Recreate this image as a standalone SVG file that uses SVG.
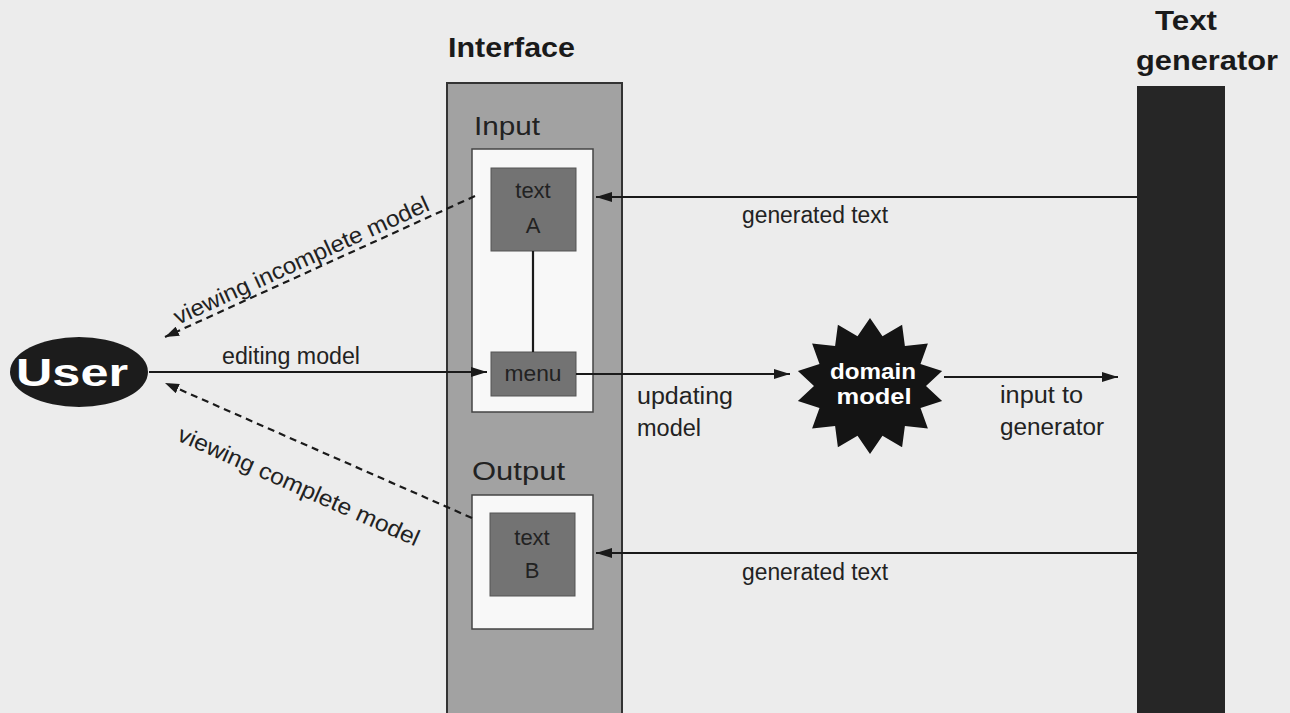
<svg xmlns="http://www.w3.org/2000/svg" width="1290" height="713" viewBox="0 0 1290 713">
<defs>
<marker id="ah" viewBox="0 0 16 10" refX="16" refY="5" markerWidth="16" markerHeight="10" markerUnits="userSpaceOnUse" orient="auto">
<path d="M0,0 L16,5 L0,10 Z" fill="#1a1a1a"/>
</marker>
<marker id="ahs" viewBox="0 0 14 10" refX="14" refY="5" markerWidth="14" markerHeight="10" markerUnits="userSpaceOnUse" orient="auto">
<path d="M0,0 L14,5 L0,10 Z" fill="#1a1a1a"/>
</marker>
</defs>
<style>
text{font-family:"Liberation Sans",Arial,Helvetica,sans-serif;fill:#222}
.lbl{font-size:23px}
.box{font-size:22px}
.hd{font-size:27px;font-weight:bold;fill:#1a1a1a}
.sec{font-size:26px}
.wb{font-weight:bold;fill:#fff}
.panel{fill:#a2a2a2;stroke:#333;stroke-width:2}
.white{fill:#f8f8f8;stroke:#444;stroke-width:1.5}
.dark{fill:#737373;stroke:#555;stroke-width:1}
.ln{stroke:#1a1a1a;stroke-width:2.2;fill:none}
.dash{stroke:#1a1a1a;stroke-width:2.2;fill:none;stroke-dasharray:7 5}
</style>
<rect x="0" y="0" width="1290" height="713" fill="#ececec"/>

<g id="interface">
<text class="hd" x="448" y="57" textLength="127" lengthAdjust="spacingAndGlyphs">Interface</text>
<rect class="panel" x="447" y="83" width="175" height="640"/>
<text class="sec" x="474" y="135" textLength="66" lengthAdjust="spacingAndGlyphs">Input</text>
<rect class="white" x="472" y="149" width="121" height="263"/>
<text class="sec" x="472" y="480" textLength="93" lengthAdjust="spacingAndGlyphs">Output</text>
<rect class="white" x="472" y="495" width="121" height="134"/>
</g>

<g id="textA">
<rect class="dark" x="491" y="168" width="85" height="83"/>
<text class="box" x="533" y="198" text-anchor="middle">text</text>
<text class="box" x="533" y="233" text-anchor="middle">A</text>
</g>

<g id="menu">
<rect class="dark" x="491" y="352" width="85" height="44"/>
<text class="box" x="533" y="381" text-anchor="middle" textLength="57" lengthAdjust="spacingAndGlyphs">menu</text>
</g>

<g id="textB">
<rect class="dark" x="490" y="513" width="85" height="83"/>
<text class="box" x="532" y="545" text-anchor="middle">text</text>
<text class="box" x="532" y="578" text-anchor="middle">B</text>
</g>

<g id="user">
<ellipse cx="79" cy="372" rx="69" ry="35" fill="#1c1c1c"/>
<text class="wb" x="72" y="386" text-anchor="middle" font-size="38" textLength="112" lengthAdjust="spacingAndGlyphs">User</text>
</g>

<g id="domain-model">
<polygon fill="#141414" points="926,386 942.1,401.1 920.5,408.1 927.9,428.4 904.9,425.9 902.1,447.3 882.5,435.7 870,454 857.5,435.7 837.9,447.3 835.1,425.9 812.1,428.4 819.5,408.1 797.9,401.1 814,386 797.9,370.9 819.5,363.9 812.1,343.6 835.1,346.1 837.9,324.7 857.5,336.3 870,318 882.5,336.3 902.1,324.7 904.9,346.1 927.9,343.6 920.5,363.9 942.1,370.9"/>
<text class="wb" x="873" y="379" text-anchor="middle" font-size="22" textLength="86" lengthAdjust="spacingAndGlyphs">domain</text>
<text class="wb" x="874" y="404" text-anchor="middle" font-size="22" textLength="75" lengthAdjust="spacingAndGlyphs">model</text>
</g>

<g id="text-generator">
<text class="hd" x="1155" y="30" textLength="62" lengthAdjust="spacingAndGlyphs">Text</text>
<text class="hd" x="1136" y="70" textLength="142" lengthAdjust="spacingAndGlyphs">generator</text>
<rect x="1137" y="86" width="88" height="640" fill="#262626"/>
</g>

<g id="connectors">
<line class="ln" x1="533" y1="251" x2="533" y2="352"/>
<line class="ln" x1="1137" y1="197" x2="596" y2="197" marker-end="url(#ah)"/>
<text class="lbl" x="742" y="223" textLength="146" lengthAdjust="spacingAndGlyphs">generated text</text>
<line class="ln" x1="1137" y1="553" x2="596" y2="553" marker-end="url(#ah)"/>
<text class="lbl" x="742" y="580" textLength="146" lengthAdjust="spacingAndGlyphs">generated text</text>
<line class="ln" stroke-width="3" x1="149" y1="372" x2="487" y2="372" marker-end="url(#ah)"/>
<text class="lbl" x="222" y="364" textLength="138" lengthAdjust="spacingAndGlyphs">editing model</text>
<line class="ln" x1="576" y1="374" x2="790" y2="374" marker-end="url(#ah)"/>
<text class="lbl" x="637" y="404" textLength="96" lengthAdjust="spacingAndGlyphs">updating</text>
<text class="lbl" x="637" y="436" textLength="64" lengthAdjust="spacingAndGlyphs">model</text>
<line class="ln" x1="944" y1="377" x2="1118" y2="377" marker-end="url(#ah)"/>
<text class="lbl" x="1000" y="403" textLength="83" lengthAdjust="spacingAndGlyphs">input to</text>
<text class="lbl" x="1000" y="435" textLength="104" lengthAdjust="spacingAndGlyphs">generator</text>
<line class="dash" x1="475" y1="196" x2="165" y2="337" marker-end="url(#ahs)"/>
<text class="lbl" transform="translate(178,325) rotate(-24.5)" textLength="278" lengthAdjust="spacingAndGlyphs">viewing incomplete model</text>
<line class="dash" x1="472" y1="518" x2="165" y2="383" marker-end="url(#ahs)"/>
<text class="lbl" transform="translate(176,440) rotate(24)" textLength="262" lengthAdjust="spacingAndGlyphs">viewing complete model</text>
</g>
</svg>
